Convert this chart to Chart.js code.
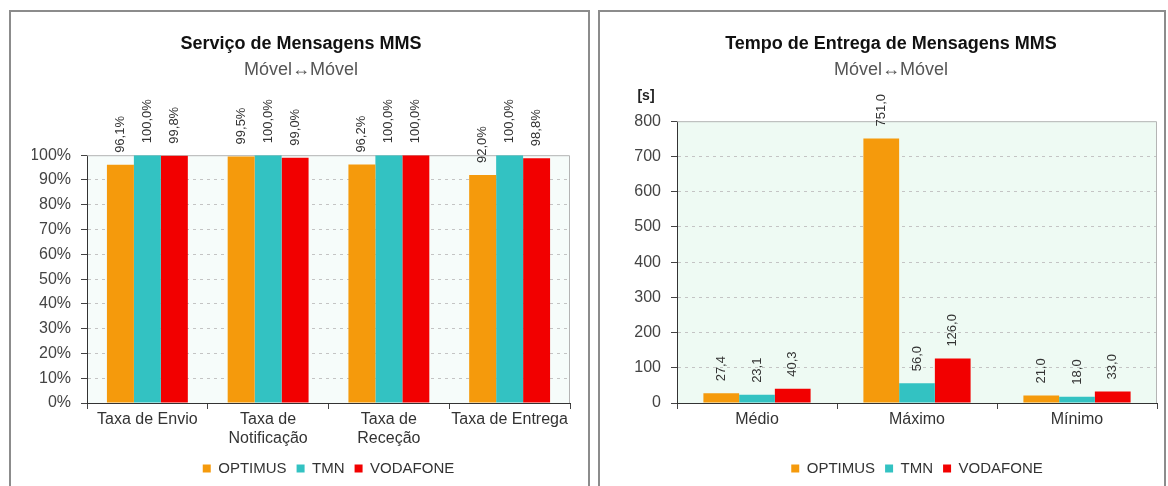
<!DOCTYPE html>
<html>
<head>
<meta charset="utf-8">
<script src="https://cdn.jsdelivr.net/npm/chart.js@4/dist/chart.umd.min.js"></script>
<style>
  body { margin: 0; background: #fff; overflow: hidden; }
  .panel { position: absolute; top: 10px; height: 490px; border: 2px solid #8c8c8c; background: #fff; }
  #leftPanel { left: 9px; width: 577px; }
  #rightPanel { left: 598px; width: 564px; }
  .box { position: relative; width: 100%; height: 474px; }
</style>
</head>
<body>
<div class="panel" id="leftPanel"><div class="box"><canvas id="mmsChart"></canvas></div></div>
<div class="panel" id="rightPanel"><div class="box"><canvas id="tempoChart"></canvas></div></div>
<script>
const seriesNames = ['OPTIMUS', 'TMN', 'VODAFONE'];
const seriesColors = ['#F59A0C', '#33C2C2', '#F20000'];

const mmsCategories = ['Taxa de Envio', ['Taxa de', 'Notificação'], ['Taxa de', 'Receção'], 'Taxa de Entrega'];
const mmsOptimus = [96.1, 99.5, 96.2, 92.0];
const mmsTmn = [100.0, 100.0, 100.0, 100.0];
const mmsVodafone = [99.8, 99.0, 100.0, 98.8];

const tempoCategories = ['Médio', 'Máximo', 'Mínimo'];
const tempoOptimus = [27.4, 751.0, 21.0];
const tempoTmn = [23.1, 56.0, 18.0];
const tempoVodafone = [40.3, 126.0, 33.0];

Chart.defaults.font.family = '"Liberation Sans", Arial, sans-serif';
Chart.defaults.color = '#444';

// rotated value labels above each bar
const barLabels = {
  id: 'barLabels',
  afterDatasetsDraw(chart, args, opts) {
    const ctx = chart.ctx;
    ctx.save();
    ctx.font = '13px "Liberation Sans", Arial, sans-serif';
    ctx.fillStyle = '#333';
    ctx.textAlign = 'left';
    ctx.textBaseline = 'middle';
    chart.data.datasets.forEach((ds, i) => {
      chart.getDatasetMeta(i).data.forEach((bar, j) => {
        const txt = ds.data[j].toFixed(1).replace('.', ',') + (opts.suffix || '');
        ctx.save();
        ctx.translate(bar.x, bar.y - 12);
        ctx.rotate(-Math.PI / 2);
        ctx.fillText(txt, 0, 0);
        ctx.restore();
      });
    });
    ctx.restore();
  }
};

// plot background and light frame on top / right
const plotFrame = {
  id: 'plotFrame',
  beforeDraw(chart, args, opts) {
    const a = chart.chartArea;
    const ctx = chart.ctx;
    ctx.save();
    ctx.fillStyle = opts.background;
    ctx.fillRect(a.left, a.top, a.right - a.left, a.bottom - a.top);
    ctx.restore();
  },
  beforeDatasetsDraw(chart) {
    const a = chart.chartArea;
    const ctx = chart.ctx;
    ctx.save();
    ctx.strokeStyle = '#b4b4b4';
    ctx.lineWidth = 1;
    ctx.beginPath();
    ctx.moveTo(a.left, a.top + 0.5);
    ctx.lineTo(a.right - 0.5, a.top + 0.5);
    ctx.lineTo(a.right - 0.5, a.bottom);
    ctx.stroke();
    ctx.restore();
  }
};

function makeDatasets(a, b, c) {
  return [a, b, c].map((d, i) => ({
    label: seriesNames[i],
    data: d,
    backgroundColor: seriesColors[i],
    borderWidth: 0,
    categoryPercentage: 0.67,
    barPercentage: 1
  }));
}

function makeOptions(cfg) {
  return {
    responsive: true,
    maintainAspectRatio: false,
    animation: false,
    layout: { padding: { left: cfg.padLeft, right: cfg.padRight, top: 0, bottom: 0 } },
    plugins: {
      title: {
        display: true,
        text: cfg.title,
        color: '#111',
        font: { size: 18, weight: 'bold' },
        padding: { top: 21, bottom: 0 }
      },
      subtitle: {
        display: true,
        text: 'Móvel↔Móvel',
        color: '#555',
        font: { size: 18, weight: 'normal' },
        padding: { top: 5, bottom: cfg.subBottom }
      },
      legend: {
        position: 'bottom',
        fullSize: false,
        labels: { boxWidth: 8, boxHeight: 8, padding: 10, color: '#333', font: { size: 15 } }
      },
      tooltip: { enabled: false },
      barLabels: { suffix: cfg.suffix },
      plotFrame: { background: cfg.plotBg }
    },
    scales: {
      x: {
        grid: { drawOnChartArea: false, tickLength: 6, tickColor: '#444', offset: true },
        border: { color: '#333' },
        ticks: { color: '#333', font: { size: 16 }, padding: 1, maxRotation: 0, autoSkip: false },
        afterFit: (s) => { s.height = 48; }
      },
      y: {
        min: 0,
        max: cfg.max,
        ticks: {
          stepSize: cfg.step,
          color: '#444',
          font: { size: 16 },
          padding: 10,
          callback: (v) => v + cfg.suffix
        },
        grid: {
          color: (c) => (c.tick && (c.tick.value === 0 || c.tick.value === cfg.max)) ? 'rgba(0,0,0,0)' : '#c4c4c4',
          tickLength: 6,
          tickColor: '#444',
          tickBorderDash: []
        },
        border: { color: '#333', dash: [3, 4] },
        afterFit: (s) => { s.width = cfg.axisWidth; }
      }
    }
  };
}

new Chart(document.getElementById('mmsChart'), {
  type: 'bar',
  data: { labels: mmsCategories, datasets: makeDatasets(mmsOptimus, mmsTmn, mmsVodafone) },
  options: makeOptions({
    title: 'Serviço de Mensagens MMS',
    subBottom: 74, padLeft: 21, padRight: 18, axisWidth: 55,
    max: 100, step: 10, suffix: '%', plotBg: '#f6fcfa'
  }),
  plugins: [plotFrame, barLabels]
});

const unitLabel = {
  id: 'unitLabel',
  afterDraw(chart) {
    const ctx = chart.ctx;
    ctx.save();
    ctx.font = 'bold 14px "Liberation Sans", Arial, sans-serif';
    ctx.fillStyle = '#222';
    ctx.textAlign = 'center';
    ctx.textBaseline = 'middle';
    ctx.fillText('[s]', 46, 84);
    ctx.restore();
  }
};

new Chart(document.getElementById('tempoChart'), {
  type: 'bar',
  data: { labels: tempoCategories, datasets: makeDatasets(tempoOptimus, tempoTmn, tempoVodafone) },
  options: makeOptions({
    title: 'Tempo de Entrega de Mensagens MMS',
    subBottom: 40, padLeft: 25, padRight: 7, axisWidth: 52,
    max: 800, step: 100, suffix: '', plotBg: '#eefaf3'
  }),
  plugins: [plotFrame, barLabels, unitLabel]
});
</script>
</body>
</html>
